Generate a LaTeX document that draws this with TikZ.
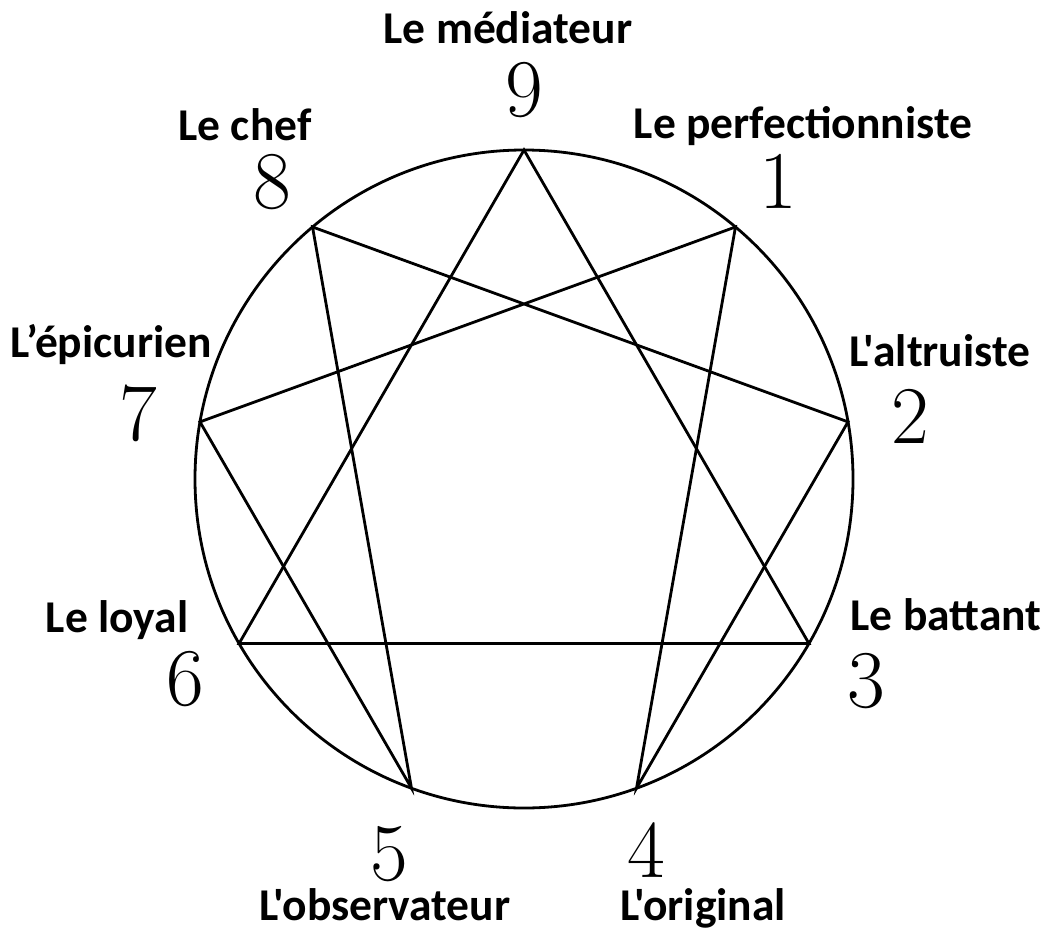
\documentclass[tikz,border=0pt]{standalone}
\usepackage{fontspec}
\usepackage{tikz}
\usetikzlibrary{calc}
\newfontfamily\labelfont{Carlito}

\begin{document}
\begin{tikzpicture}[
    x=1pt,y=-1pt,
    typename/.style={anchor=base,inner sep=0pt,font=\labelfont\bfseries\fontsize{45.5}{45.5}\selectfont},
    typenum/.style={anchor=base,inner sep=0pt,font=\fontsize{82}{82}\selectfont},
    figline/.style={line width=2.8pt,line join=miter}
  ]
    \useasboundingbox (0,0) rectangle (1048,934);
    \coordinate (c) at (524,479);
    \foreach \n/\a in {9/90,1/50,2/10,3/-30,4/-70,5/-110,6/-150,7/170,8/130}
      \coordinate (p\n) at ([shift={({329*cos(\a)},{-329*sin(\a)})}]c);
    % cercle et figures
    \draw[figline] (c) circle[radius=329pt];
    \draw[figline] (p9) -- (p3) -- (p6) -- cycle;
    \draw[figline] (p1) -- (p4) -- (p2) -- (p8) -- (p5) -- (p7) -- cycle;
    % nombres
    \node[typenum] (n9) at (524,116) {9};
    \node[typenum] (n1) at (778,208) {1};
    \node[typenum] (n2) at (910,443) {2};
    \node[typenum] (n3) at (866,707) {3};
    \node[typenum] (n4) at (646,877) {4};
    \node[typenum] (n5) at (389,880) {5};
    \node[typenum] (n6) at (185,705) {6};
    \node[typenum] (n7) at (138,440) {7};
    \node[typenum] (n8) at (272,208) {8};
    % noms
    \node[typename] (mediateur) at (508,44) {Le médiateur};
    \node[typename] (perfectionniste) at (803,138) {Le perfectionniste};
    \node[typename] (altruiste) at (940,366) {L'altruiste};
    \node[typename] (battant) at (946,630) {Le battant};
    \node[typename] (original) at (703,920) {L'original};
    \node[typename] (observateur) at (385,920) {L'observateur};
    \node[typename] (loyal) at (117,632) {Le loyal};
    \node[typename] (epicurien) at (111,357) {L’épicurien};
    \node[typename] (chef) at (245,140) {Le chef};
\end{tikzpicture}
\end{document}
